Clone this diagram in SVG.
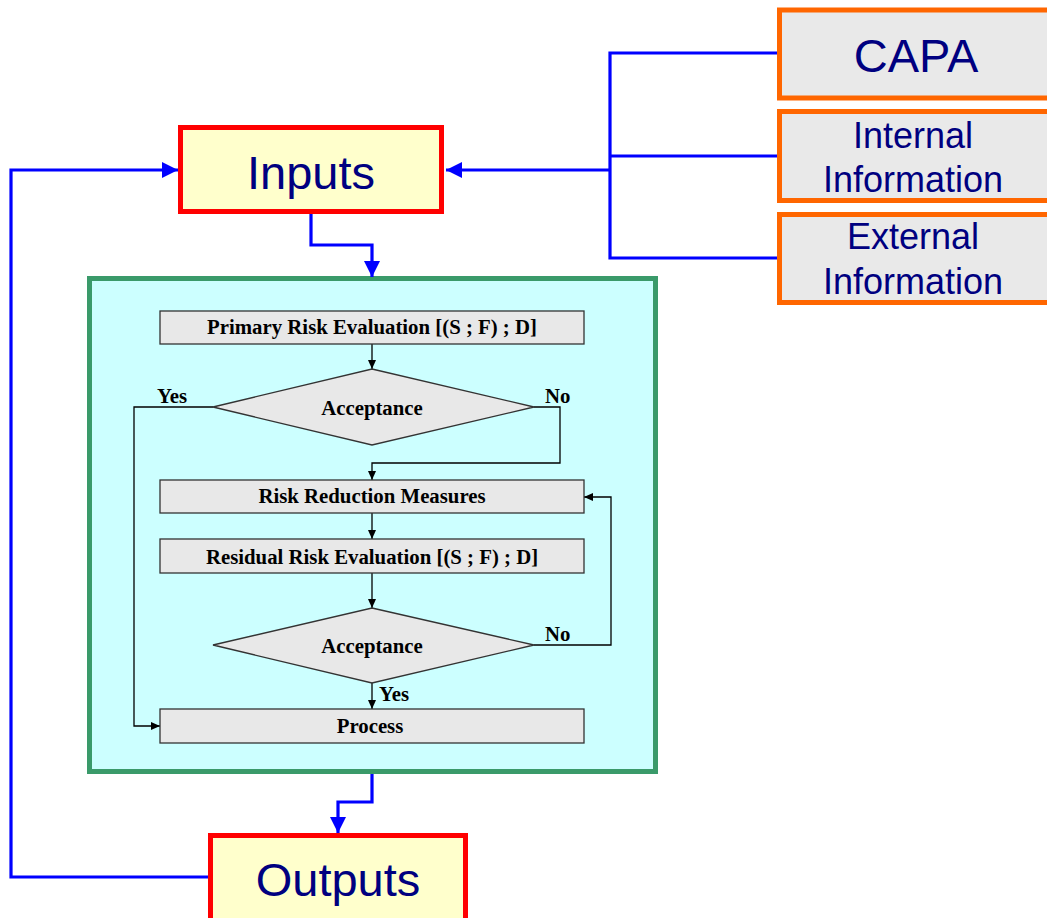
<svg xmlns="http://www.w3.org/2000/svg" width="1047" height="918" viewBox="0 0 1047 918">
  <style>
    .io { fill: #FFFFCC; stroke: #FF0000; stroke-width: 5; }
    .src { fill: #E9E9E9; stroke: #FF6600; stroke-width: 5; }
    .frame { fill: #CCFFFF; stroke: #3A9A6A; stroke-width: 5; }
    .step { fill: #E8E8E8; stroke: #333333; stroke-width: 1.3; }
    .big { font-family: "Liberation Sans", Arial, sans-serif; font-size: 47px; fill: #000080; text-anchor: middle; }
    .mid { font-family: "Liberation Sans", Arial, sans-serif; font-size: 36px; fill: #000080; text-anchor: middle; }
    .lbl { font-family: "Liberation Serif", "Times New Roman", serif; font-size: 20.8px; font-weight: bold; fill: #000000; }
    .c { text-anchor: middle; }
    .blue { fill: none; stroke: #0000FF; stroke-width: 3.2; }
    .blk { fill: none; stroke: #000000; stroke-width: 1.3; }
  </style>
  <defs>
    <marker id="blueHead" markerUnits="userSpaceOnUse" markerWidth="17" markerHeight="16" refX="16" refY="8" orient="auto">
      <polygon points="0,0 16,8 0,16" fill="#0000FF"/>
    </marker>
    <marker id="blkHead" markerUnits="userSpaceOnUse" markerWidth="10" markerHeight="8" refX="9" refY="4" orient="auto">
      <polygon points="0,0 9,4 0,8" fill="#000000"/>
    </marker>
  </defs>

  <!-- process frame -->
  <g id="risk-process">
    <rect class="frame" x="89.5" y="278.5" width="566" height="493"/>
  </g>

  <!-- connectors -->
  <g id="connectors">
    <!-- sources to inputs -->
    <path class="blue" d="M779,53 H610 V258 H779"/>
    <path class="blue" d="M779,156 H610"/>
    <path class="blue" d="M610,170 H446" marker-end="url(#blueHead)"/>
    <!-- inputs to process frame -->
    <path class="blue" d="M311,214 V245 H372 V277" marker-end="url(#blueHead)"/>
    <!-- process frame to outputs -->
    <path class="blue" d="M372,774 V802 H338 V833" marker-end="url(#blueHead)"/>
    <!-- outputs feedback to inputs -->
    <path class="blue" d="M208,877 H11 V170 H178" marker-end="url(#blueHead)"/>

    <!-- inner flow -->
    <path class="blk" d="M372,344 V369" marker-end="url(#blkHead)"/>
    <path class="blk" d="M534,407 H560 V463 H372 V480" marker-end="url(#blkHead)"/>
    <path class="blk" d="M213,407 H134 V726 H160" marker-end="url(#blkHead)"/>
    <path class="blk" d="M372,513 V539" marker-end="url(#blkHead)"/>
    <path class="blk" d="M372,573 V608" marker-end="url(#blkHead)"/>
    <path class="blk" d="M372,683 V709" marker-end="url(#blkHead)"/>
    <path class="blk" d="M534,645 H611 V497 H584" marker-end="url(#blkHead)"/>
  </g>

  <g id="inputs">
    <rect class="io" x="180.5" y="127.5" width="261" height="84"/>
    <text class="big" x="311" y="189">Inputs</text>
  </g>

  <g id="outputs">
    <rect class="io" x="210.5" y="835.5" width="255" height="92"/>
    <text class="big" x="338" y="896">Outputs</text>
  </g>

  <g id="capa">
    <rect class="src" x="779.5" y="10" width="280" height="88"/>
    <text class="big" x="916" y="72">CAPA</text>
  </g>

  <g id="internal-info">
    <rect class="src" x="779.5" y="111.5" width="280" height="89"/>
    <text class="mid" x="913" y="148">Internal</text>
    <text class="mid" x="913" y="192">Information</text>
  </g>

  <g id="external-info">
    <rect class="src" x="779.5" y="214.5" width="280" height="88"/>
    <text class="mid" x="913" y="249">External</text>
    <text class="mid" x="913" y="294">Information</text>
  </g>

  <g id="primary-eval">
    <rect class="step" x="160" y="311" width="424" height="33"/>
    <text class="lbl c" x="372" y="334">Primary Risk Evaluation [(S ; F) ; D]</text>
  </g>

  <g id="acceptance-1">
    <polygon class="step" points="372,369 534,407 372,445 213,407"/>
    <text class="lbl c" x="372" y="415">Acceptance</text>
    <text class="lbl" x="157" y="403">Yes</text>
    <text class="lbl" x="545" y="403">No</text>
  </g>

  <g id="risk-reduction">
    <rect class="step" x="160" y="480" width="424" height="33"/>
    <text class="lbl c" x="372" y="503">Risk Reduction Measures</text>
  </g>

  <g id="residual-eval">
    <rect class="step" x="160" y="539" width="424" height="34"/>
    <text class="lbl c" x="372" y="564">Residual Risk Evaluation [(S ; F) ; D]</text>
  </g>

  <g id="acceptance-2">
    <polygon class="step" points="372,608 534,645 372,683 213,645"/>
    <text class="lbl c" x="372" y="653">Acceptance</text>
    <text class="lbl" x="545" y="641">No</text>
    <text class="lbl" x="379" y="701">Yes</text>
  </g>

  <g id="process">
    <rect class="step" x="160" y="709" width="424" height="34"/>
    <text class="lbl c" x="370" y="733">Process</text>
  </g>
</svg>
